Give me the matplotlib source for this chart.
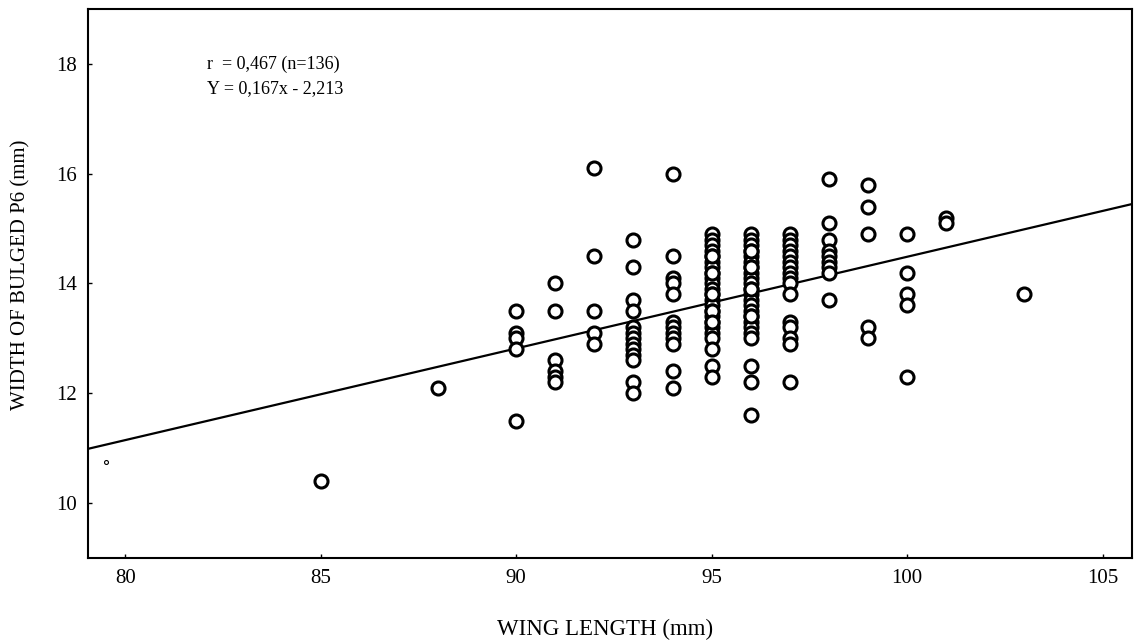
import numpy as np
import matplotlib
matplotlib.use("Agg")
import matplotlib.pyplot as plt

# wing length (mm) and width of bulged P6 (mm), one entry per bird
wing = ([85] + [88]
        + [90] * 5 + [91] * 6 + [92] * 5 + [93] * 13 + [94] * 12
        + [95] * 28 + [96] * 27 + [97] * 16 + [98] * 9 + [99] * 5
        + [100] * 5 + [101] * 2 + [103])
width = ([10.4] + [12.1]
         + [13.5, 13.1, 13.0, 12.8, 11.5]
         + [14.0, 13.5, 12.6, 12.4, 12.3, 12.2]
         + [16.1, 14.5, 13.5, 13.1, 12.9]
         + [14.8, 14.3, 13.7, 13.5, 13.2, 13.1, 13.0, 12.9, 12.8, 12.7, 12.6, 12.2, 12.0]
         + [16.0, 14.5, 14.1, 14.0, 13.8, 13.3, 13.2, 13.1, 13.0, 12.9, 12.4, 12.1]
         + [14.9, 14.8, 14.7, 14.6, 14.5, 14.4, 14.3, 14.2, 14.1, 14.0,
            13.9, 13.8, 13.7, 13.6, 13.5, 13.4, 13.3, 13.2, 13.1, 13.0,
            14.5, 14.2, 13.8, 13.5, 13.3, 12.8, 12.5, 12.3]
         + [14.9, 14.8, 14.7, 14.6, 14.5, 14.4, 14.3, 14.2, 14.1, 14.0,
            13.9, 13.8, 13.7, 13.6, 13.5, 13.4, 13.3, 13.2, 13.1, 13.0,
            14.6, 14.3, 13.9, 13.4, 12.5, 12.2, 11.6]
         + [14.9, 14.8, 14.7, 14.6, 14.5, 14.4, 14.3, 14.2, 14.1, 14.0,
            13.8, 13.3, 13.2, 13.0, 12.9, 12.2]
         + [15.9, 15.1, 14.8, 14.6, 14.5, 14.4, 14.3, 14.2, 13.7]
         + [15.8, 15.4, 14.9, 13.2, 13.0]
         + [14.9, 14.2, 13.8, 13.6, 12.3]
         + [15.2, 15.1]
         + [13.8])

# stray speck near the left axis
speck_x = [79.5]
speck_y = [10.75]

slope = 0.167
intercept = -2.213
r_text = "r  = 0,467 (n=136)"
eq_text = "Y = 0,167x - 2,213"

xticks = [80, 85, 90, 95, 100, 105]
yticks = [10, 12, 14, 16, 18]
xlim = (79.05, 105.75)
ylim = (9.0, 19.0)

plt.rcParams["font.family"] = ["Liberation Serif", "DejaVu Serif"]

fig = plt.figure(figsize=(11.37, 6.41), dpi=100)
ax = fig.add_axes([88 / 1137, 1 - 558 / 641, (1132 - 88) / 1137, (558 - 9) / 641])

ax.scatter(wing, width, s=88, facecolors="white", edgecolors="black",
           linewidths=2.2, zorder=3)
ax.scatter(speck_x, speck_y, s=8, facecolors="white", edgecolors="black",
           linewidths=0.8, zorder=3)

xs = np.array(xlim)
ax.plot(xs, slope * xs + intercept, color="black", lw=1.6, zorder=2)

ax.text(82.1, 18.0, r_text, fontsize=13, va="center", ha="left")
ax.text(82.1, 17.55, eq_text, fontsize=13, va="center", ha="left")

ax.set_xlim(*xlim)
ax.set_ylim(*ylim)
ax.set_xticks(xticks)
ax.set_yticks(yticks)
ax.tick_params(direction="in", length=3, width=1, labelsize=15, pad=8)
for sp in ax.spines.values():
    sp.set_linewidth(1.5)

ax.set_xlabel("WING LENGTH (mm)", fontsize=16.5)
ax.xaxis.set_label_coords(0.495, -0.11)
ax.set_ylabel("WIDTH OF BULGED P6 (mm)", fontsize=15)
ax.yaxis.set_label_coords(-0.055, 0.515)

fig.savefig("out.png", dpi=100)
